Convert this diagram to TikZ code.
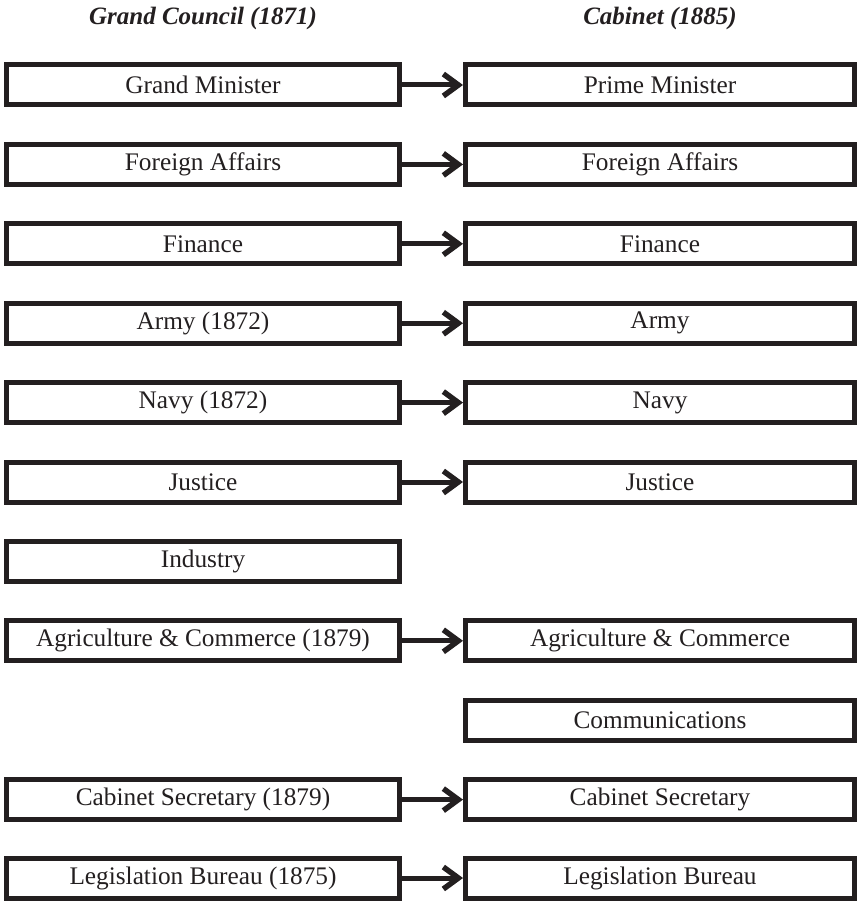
\documentclass[tikz,border=0pt]{standalone}
\usepackage{fontspec}
\setmainfont{Liberation Serif}
\usetikzlibrary{arrows.meta}
\definecolor{ink}{RGB}{35,31,32}
\tikzset{
  orgbox/.style={draw=ink, line width=5pt, rectangle, inner sep=0pt,
    minimum width=393pt, minimum height=40pt, text=ink,
    font=\fontsize{25.3}{28}\selectfont},
  rbox/.style={orgbox, minimum width=389pt},
  hdr/.style={text=ink, font=\fontsize{25}{28}\selectfont\bfseries\itshape},
  conn/.style={draw=ink, line width=5pt, -{Straight Barb[length=15pt,width=22pt,line width=5.5pt]}}
}
\begin{document}
\begin{tikzpicture}[x=1pt,y=-1pt]
\useasboundingbox (0,0) rectangle (859,901);
\node[hdr] (h1) at (203,18) {Grand Council (1871)};
\node[hdr] (h2) at (660,18) {Cabinet (1885)};
\node[orgbox] (l0) at (203,{85+79.4*0}) {Grand Minister};
\node[orgbox] (l1) at (203,{85+79.4*1}) {Foreign Affairs};
\node[orgbox] (l2) at (203,{85+79.4*2}) {Finance};
\node[orgbox] (l3) at (203,{85+79.4*3}) {Army (1872)};
\node[orgbox] (l4) at (203,{85+79.4*4}) {Navy (1872)};
\node[orgbox] (l5) at (203,{85+79.4*5}) {Justice};
\node[orgbox] (l6) at (203,{85+79.4*6}) {Industry};
\node[orgbox] (l7) at (203,{85+79.4*7}) {Agriculture \& Commerce (1879)};
\node[orgbox] (l9) at (203,{85+79.4*9}) {Cabinet Secretary (1879)};
\node[orgbox] (l10) at (203,{85+79.4*10-1}) {Legislation Bureau (1875)};
\node[rbox] (r0) at (660,{85+79.4*0}) {Prime Minister};
\node[rbox] (r1) at (660,{85+79.4*1}) {Foreign Affairs};
\node[rbox] (r2) at (660,{85+79.4*2}) {Finance};
\node[rbox] (r3) at (660,{85+79.4*3}) {Army};
\node[rbox] (r4) at (660,{85+79.4*4}) {Navy};
\node[rbox] (r5) at (660,{85+79.4*5}) {Justice};
\node[rbox] (r7) at (660,{85+79.4*7}) {Agriculture \& Commerce};
\node[rbox] (r8) at (660,{85+79.4*8}) {Communications};
\node[rbox] (r9) at (660,{85+79.4*9}) {Cabinet Secretary};
\node[rbox] (r10) at (660,{85+79.4*10-1}) {Legislation Bureau};
\foreach \i in {0,1,2,3,4,5,7,9,10}{
  \draw[conn] (l\i.east) -- (r\i.west);
}
\end{tikzpicture}
\end{document}
